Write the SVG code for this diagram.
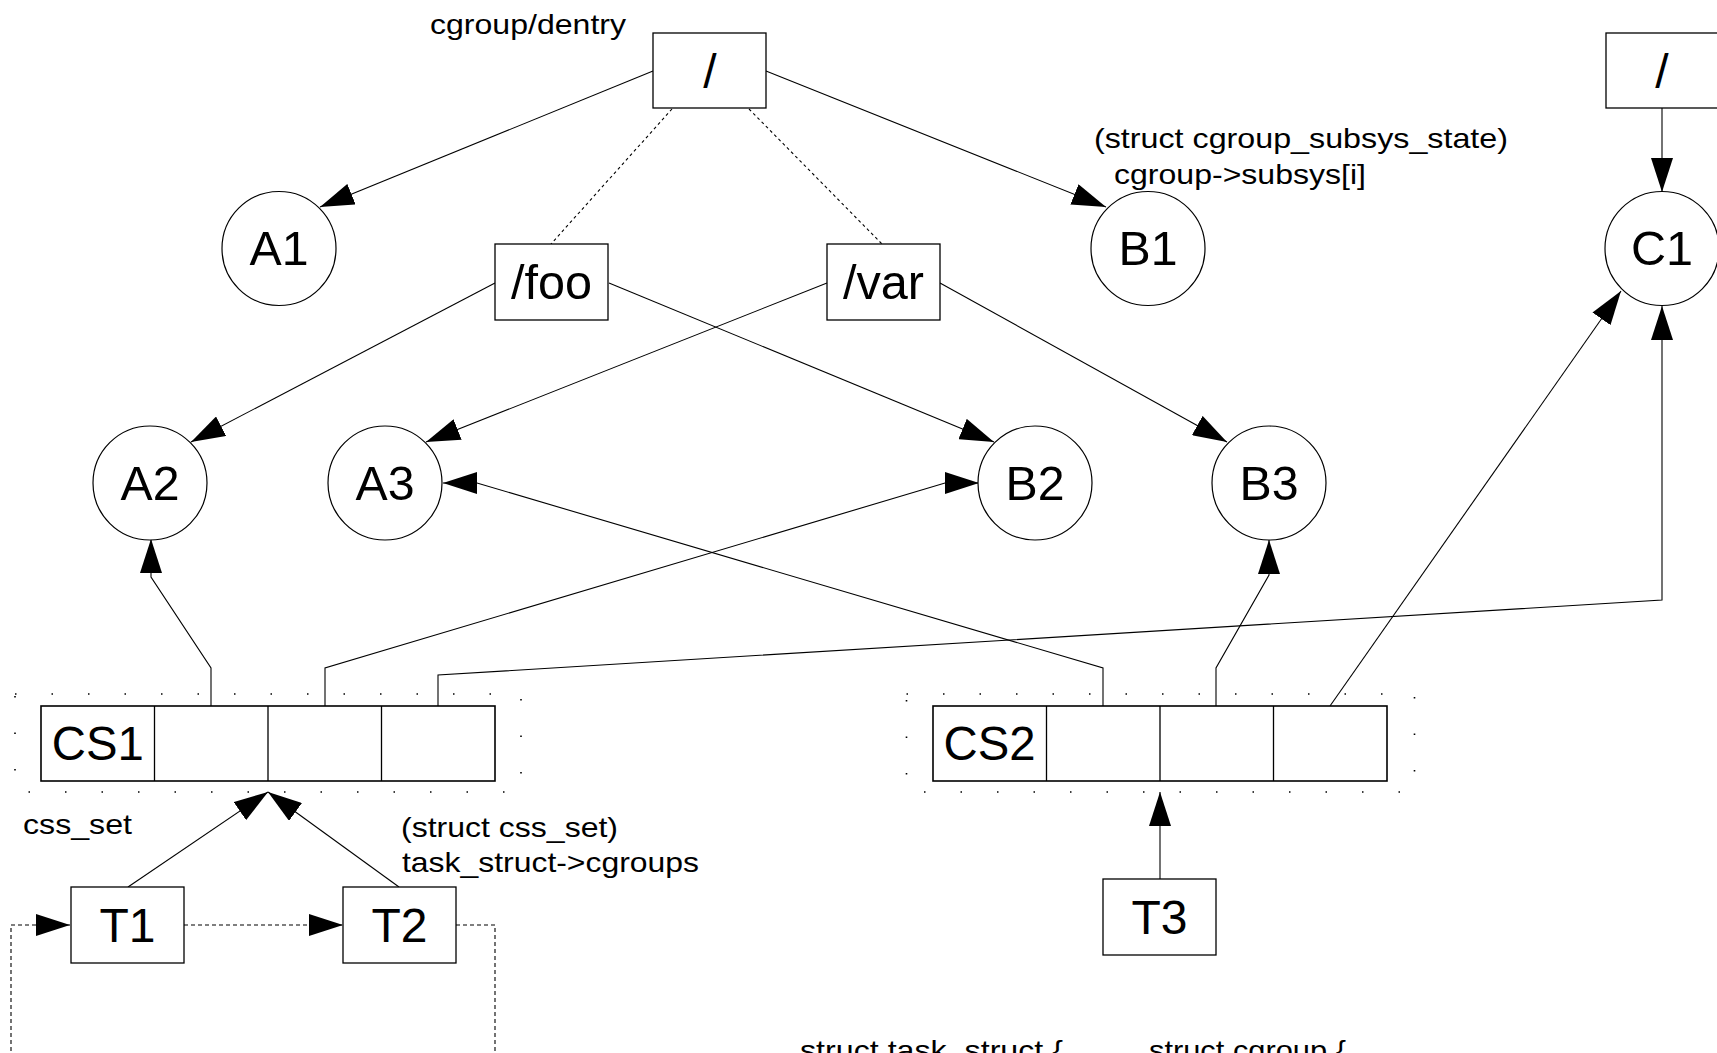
<svg xmlns="http://www.w3.org/2000/svg" width="1717" height="1053" viewBox="0 0 1717 1053">
<defs>
<marker id="arr" markerUnits="userSpaceOnUse" markerWidth="34" markerHeight="22" refX="34" refY="11" orient="auto" viewBox="0 0 34 22"><path d="M0,0 L34,11 L0,22 z" fill="#000"/></marker>
</defs>
<style>
.box{fill:#fff;stroke:#000;stroke-width:1.3}
.cs{fill:#fff;stroke:#000;stroke-width:1.6}
.div{stroke:#000;stroke-width:1.3}
.circ{fill:#fff;stroke:#000;stroke-width:1.2}
.nt{font-family:"Liberation Sans",Arial,sans-serif;font-size:48px;text-anchor:middle;fill:#000}
.lt{font-family:"Liberation Sans",Arial,sans-serif;font-size:28px;fill:#000}
.e{fill:none;stroke:#000;stroke-width:1.1}
.ea{marker-end:url(#arr)}
.d{stroke-dasharray:3 3}
.dl{stroke-dasharray:4 3}
.grp{fill:none;stroke:#000;stroke-width:1.6;stroke-dasharray:1.5 35}
</style>
<rect width="1717" height="1053" fill="#fff"/>
<g id="groups">
<rect class="grp" x="15" y="694" width="506" height="98"/>
<rect class="grp" x="906.5" y="694" width="508" height="98"/>
</g>
<g id="connectors">
<path class="e ea" d="M653,71 L320,207"/>
<path class="e ea" d="M766,71 L1106,207"/>
<path class="e d" d="M672,109 L551,244"/>
<path class="e d" d="M749,109 L882,244"/>
<path class="e ea" d="M495,283 L191,442"/>
<path class="e ea" d="M609,283 L994,442"/>
<path class="e ea" d="M827,283 L426,442"/>
<path class="e ea" d="M940,283 L1227,442"/>
<path class="e ea" d="M1662,108 L1662,192"/>
<path class="e ea" d="M211,706 L211,668 L151,577 L151,539"/>
<path class="e ea" d="M325,706 L325,668 L945,483 L979,483"/>
<path class="e ea" d="M438,706 L438,675 L1662,600 L1662,306"/>
<path class="e ea" d="M1103,706 L1103,668 L477,483 L443,483"/>
<path class="e ea" d="M1216,706 L1216,668 L1269,575 L1269,540"/>
<path class="e ea" d="M1330,706 L1621,291"/>
<path class="e ea" d="M128,887 L268,792"/>
<path class="e ea" d="M399,887 L268,792"/>
<path class="e ea" d="M1160,879 L1160,792"/>
<path class="e ea dl" d="M184,925 L343,925"/>
<path class="e ea dl" d="M456,925 L495,925 L495,1080 L11,1080 L11,925 L70,925"/>
</g>
<g id="root"><rect class="box" x="653" y="33" width="113" height="75"/><text class="nt" x="710" y="88">/</text></g>
<g id="root2"><rect class="box" x="1606" y="33" width="113" height="75"/><text class="nt" x="1662" y="88">/</text></g>
<g id="foo"><rect class="box" x="495" y="244" width="113" height="76"/><text class="nt" x="551.5" y="299" textLength="81" lengthAdjust="spacingAndGlyphs">/foo</text></g>
<g id="var"><rect class="box" x="827" y="244" width="113" height="76"/><text class="nt" x="883.5" y="299" textLength="81" lengthAdjust="spacingAndGlyphs">/var</text></g>
<g id="A1"><circle class="circ" cx="279" cy="248.5" r="57"/><text class="nt" x="279" y="265" textLength="59" lengthAdjust="spacingAndGlyphs">A1</text></g>
<g id="B1"><circle class="circ" cx="1148" cy="248.5" r="57"/><text class="nt" x="1148" y="265" textLength="59" lengthAdjust="spacingAndGlyphs">B1</text></g>
<g id="C1"><circle class="circ" cx="1662" cy="248.5" r="57"/><text class="nt" x="1662" y="265" textLength="62" lengthAdjust="spacingAndGlyphs">C1</text></g>
<g id="A2"><circle class="circ" cx="150" cy="483" r="57"/><text class="nt" x="150" y="499.5" textLength="59" lengthAdjust="spacingAndGlyphs">A2</text></g>
<g id="A3"><circle class="circ" cx="385" cy="483" r="57"/><text class="nt" x="385" y="499.5" textLength="59" lengthAdjust="spacingAndGlyphs">A3</text></g>
<g id="B2"><circle class="circ" cx="1035" cy="483" r="57"/><text class="nt" x="1035" y="499.5" textLength="59" lengthAdjust="spacingAndGlyphs">B2</text></g>
<g id="B3"><circle class="circ" cx="1269" cy="483" r="57"/><text class="nt" x="1269" y="499.5" textLength="59" lengthAdjust="spacingAndGlyphs">B3</text></g>
<g id="CS1"><rect class="cs" x="41" y="706" width="454" height="75"/><path class="div" d="M154.5,706 V781 M268,706 V781 M381.5,706 V781"/><text class="nt" x="97.8" y="760" textLength="92" lengthAdjust="spacingAndGlyphs">CS1</text></g>
<g id="CS2"><rect class="cs" x="933" y="706" width="454" height="75"/><path class="div" d="M1046.5,706 V781 M1160,706 V781 M1273.5,706 V781"/><text class="nt" x="989.5" y="760" textLength="92" lengthAdjust="spacingAndGlyphs">CS2</text></g>
<g id="T1"><rect class="box" x="71" y="887" width="113" height="76"/><text class="nt" x="127.5" y="942" textLength="56" lengthAdjust="spacingAndGlyphs">T1</text></g>
<g id="T2"><rect class="box" x="343" y="887" width="113" height="76"/><text class="nt" x="399.5" y="942" textLength="56" lengthAdjust="spacingAndGlyphs">T2</text></g>
<g id="T3"><rect class="box" x="1103" y="879" width="113" height="76"/><text class="nt" x="1159.5" y="934" textLength="56" lengthAdjust="spacingAndGlyphs">T3</text></g>
<g id="labels">
<text class="lt" x="430" y="34" textLength="196" lengthAdjust="spacingAndGlyphs">cgroup/dentry</text>
<text class="lt" x="1094" y="148" textLength="414" lengthAdjust="spacingAndGlyphs">(struct cgroup_subsys_state)</text>
<text class="lt" x="1114" y="184" textLength="252" lengthAdjust="spacingAndGlyphs">cgroup-&gt;subsys[i]</text>
<text class="lt" x="23" y="834" textLength="109" lengthAdjust="spacingAndGlyphs">css_set</text>
<text class="lt" x="401" y="837" textLength="217" lengthAdjust="spacingAndGlyphs">(struct css_set)</text>
<text class="lt" x="402" y="872" textLength="297" lengthAdjust="spacingAndGlyphs">task_struct-&gt;cgroups</text>
<text class="lt" x="800" y="1060" textLength="263" lengthAdjust="spacingAndGlyphs">struct task_struct {</text>
<text class="lt" x="1149" y="1060" textLength="197" lengthAdjust="spacingAndGlyphs">struct cgroup {</text>
</g>
</svg>
